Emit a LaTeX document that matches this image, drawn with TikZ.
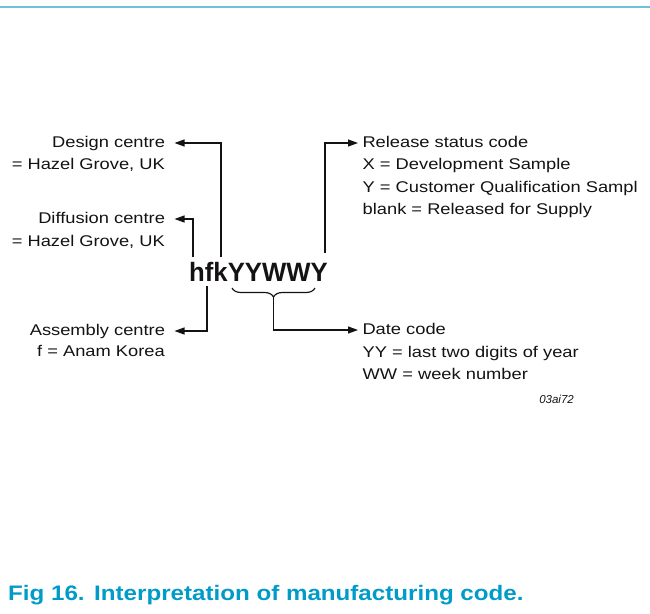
\documentclass[tikz,border=0pt]{standalone}
\usepackage{fontspec}
\setmainfont{Liberation Sans}[FakeStretch=1.18]
\newfontfamily\codefont{Liberation Sans}[FakeStretch=0.97]
\newfontfamily\capfont{Liberation Sans}[FakeStretch=1.15]
\newfontfamily\tagfont{Liberation Sans}
\usetikzlibrary{arrows.meta,decorations.pathreplacing}
\definecolor{rulecol}{RGB}{110,195,218}
\definecolor{capblue}{RGB}{0,155,200}
\definecolor{ink}{RGB}{20,18,18}
\begin{document}
\begin{tikzpicture}[x=1pt,y=-1pt,
  txt/.style={font=\fontsize{15.5}{18}\selectfont, inner sep=0pt, text height=11pt, text depth=2pt, text=ink},
  lt/.style={txt, anchor=east, outer xsep=9.5pt},
  rt/.style={txt, anchor=west, outer xsep=4.5pt},
  conn/.style={line width=1.15pt, draw=ink, -{Triangle[length=10pt,width=7pt]}},
  bracestyle/.style={line width=1.15pt, draw=ink, decorate, decoration={brace, mirror, amplitude=9pt}}]
\useasboundingbox (0,0) rectangle (650,613);
\draw[rulecol, line width=2pt] (0,7) -- (650,7);

% left labels
\node[lt] (design) at (174.5,143) {Design centre};
\node[txt, anchor=east] (designv) at (165,165) {= Hazel Grove, UK};
\node[lt] (diff) at (174.5,219) {Diffusion centre};
\node[txt, anchor=east] (diffv) at (165,242) {= Hazel Grove, UK};
\node[lt] (assy) at (174.5,331) {Assembly centre};
\node[txt, anchor=east] (assyv) at (165,352) {f = Anam Korea};

% right labels
\node[rt] (rel) at (358,143) {Release status code};
\node[txt, anchor=west] (rel1) at (362.5,165) {X = Development Sample};
\node[txt, anchor=west] (rel2) at (362.5,188) {Y = Customer Qualification Sampl};
\node[txt, anchor=west] (rel3) at (362.5,210) {blank = Released for Supply};
\node[rt] (date) at (358,330) {Date code};
\node[txt, anchor=west] (date1) at (362.5,353) {YY = last two digits of year};
\node[txt, anchor=west] (date2) at (362.5,375) {WW = week number};
\node[font=\tagfont\itshape\fontsize{11.5}{13}\selectfont, text=ink, anchor=east, inner sep=0pt] (tag) at (574,399) {03ai72};

% code
\node[font=\codefont\bfseries\fontsize{26.5}{30}\selectfont, anchor=base west, inner sep=0pt, text=ink] (code) at (189,281.5) {hfkYYWWY};

\coordinate (ch) at (193,257);
\coordinate (cf) at (207,286);
\coordinate (ck) at (221,257);
\coordinate (cy) at (325,253);
\coordinate (bl) at (232,288);
\coordinate (br) at (315,288);
\coordinate (bt) at (273.5,297);

\draw[conn] (ck) |- (design);
\draw[conn] (ch) |- (diff);
\draw[conn] (cf) |- (assy);
\draw[conn] (cy) |- (rel);
\draw[bracestyle] (bl) -- (br);
\draw[conn] (bt) |- (date);

% caption
\node[font=\capfont\bfseries\fontsize{21}{24}\selectfont, text=capblue, anchor=base west, inner sep=0pt] (cap) at (8,600) {Fig 16.\hspace{9.5pt}Interpretation of manufacturing code.};
\end{tikzpicture}
\end{document}
